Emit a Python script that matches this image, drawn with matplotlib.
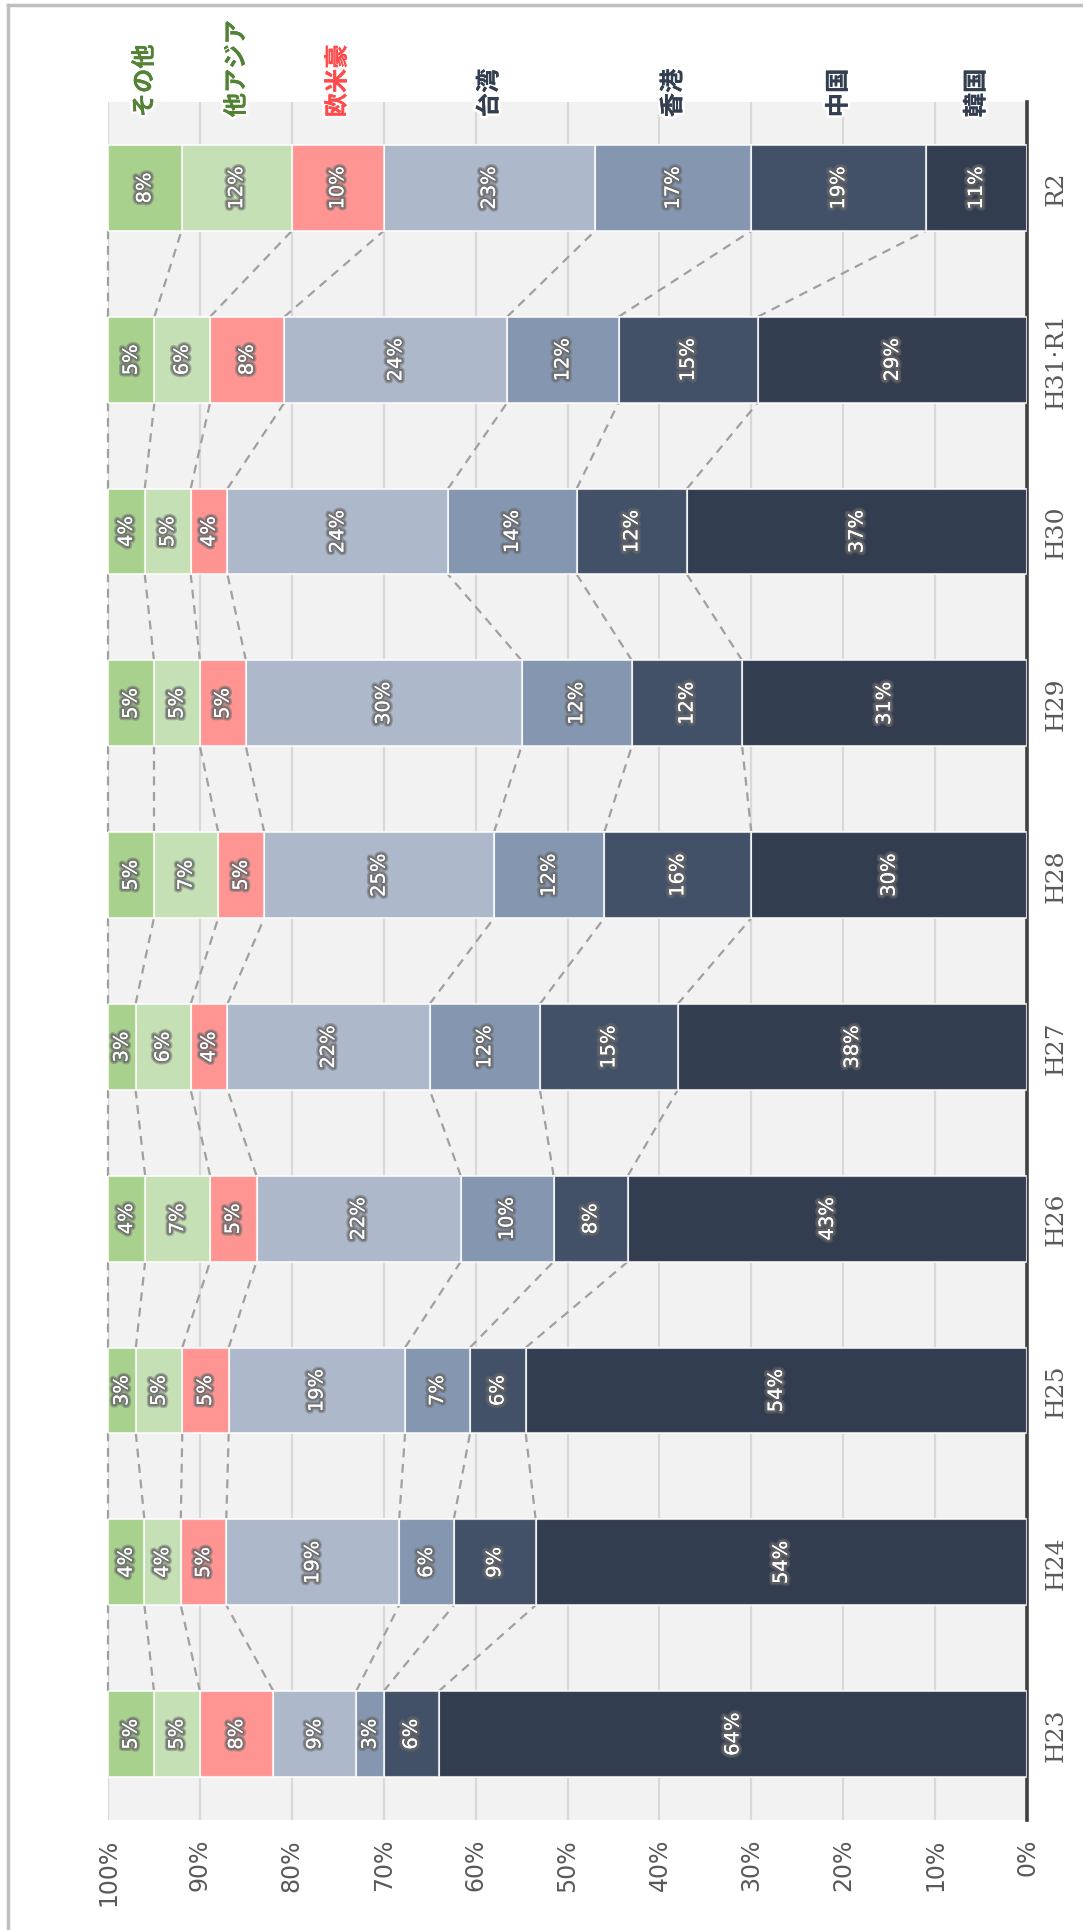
import matplotlib
matplotlib.use('Agg')
import matplotlib.pyplot as plt
import matplotlib.patheffects as pe
from matplotlib.lines import Line2D
import numpy as np

categories = ['H23', 'H24', 'H25', 'H26', 'H27', 'H28', 'H29', 'H30', 'H31·R1', 'R2']
series_names = ['韓国', '中国', '香港', '台湾', '欧米豪', '他アジア', 'その他']
korea = [64, 54, 54, 43, 38, 30, 31, 37, 29, 11]
china = [6, 9, 6, 8, 15, 16, 12, 12, 15, 19]
hongkong = [3, 6, 7, 10, 12, 12, 12, 14, 12, 17]
taiwan = [9, 19, 19, 22, 22, 25, 30, 24, 24, 23]
western = [8, 5, 5, 5, 4, 5, 5, 4, 8, 10]
other_asia = [5, 4, 5, 7, 6, 7, 5, 5, 6, 12]
others = [5, 4, 3, 4, 3, 5, 5, 4, 5, 8]
value_ticks = [0, 10, 20, 30, 40, 50, 60, 70, 80, 90, 100]

series = [korea, china, hongkong, taiwan, western, other_asia, others]
colors = ['#333d50', '#435168', '#8496b0', '#adb9ca', '#ff9593', '#c5e0b4', '#a9d18e']
name_colors = ['#333f50', '#333f50', '#333f50', '#333f50', '#ff4b4b', '#548235', '#548235']

W, H = 1083, 1931
fig = plt.figure(figsize=(W / 100, H / 100), dpi=100)
fig.patch.set_facecolor('white')
ax = fig.add_axes([108 / W, 1 - 1821 / H, (1027 - 108) / W, (1821 - 103) / H])
ax.set_facecolor('#f2f2f2')

data = np.array(series, dtype=float)
totals = data.sum(axis=0)
shares = data / totals * 100
cum = np.cumsum(shares, axis=0)
y = np.arange(len(categories))
bar_h = 0.5

for k in range(len(series)):
    left = cum[k] - shares[k]
    ax.barh(y, shares[k], left=left, height=bar_h, color=colors[k],
            edgecolor=(1, 1, 1, 0.75), linewidth=1.5, zorder=3)
    for j in range(len(categories)):
        ax.text(left[j] + shares[k][j] / 2, y[j], f'{series[k][j]}%',
                rotation=90, ha='center', va='center', color='white',
                fontsize=14, family='DejaVu Sans', zorder=5,
                path_effects=[pe.withStroke(linewidth=5, foreground=(0.42, 0.42, 0.42, 0.45)),
                              pe.withStroke(linewidth=3, foreground=(0.4, 0.4, 0.4, 0.7)),
                              pe.Normal()])

# dashed connectors between bars
for k in range(len(series)):
    for j in range(len(categories) - 1):
        ax.plot([cum[k][j], cum[k][j + 1]], [y[j] + bar_h / 2, y[j + 1] - bar_h / 2],
                color='#a0a0a0', lw=1.6, ls=(0, (4, 3)), zorder=2, clip_on=False)

# series names above last bar
last = len(categories) - 1
for k in range(len(series)):
    cx = cum[k][last] - shares[k][last] / 2
    ax.annotate(series_names[k], xy=(cx, 1.0), xycoords=('data', 'axes fraction'),
                xytext=(0, -11), textcoords='offset points', rotation=90,
                ha='center', va='bottom', color=name_colors[k], fontsize=17.5,
                fontweight='bold', family=['Noto Sans CJK JP', 'DejaVu Sans'], zorder=6,
                path_effects=[pe.withStroke(linewidth=4, foreground='white'), pe.Normal()],
                annotation_clip=False)

ax.set_xlim(100, 0)
ax.set_ylim(-0.5, len(categories) - 0.5)
ax.set_xticks(value_ticks)
ax.set_xticklabels([f'{v}%' for v in value_ticks], rotation=90, fontsize=17,
                   color='#595959', family='DejaVu Sans')
ax.set_yticks(y)
ax.set_yticklabels(categories, rotation=90, va='center', fontsize=18,
                   color='#595959', family=['DejaVu Serif', 'Noto Sans CJK JP'])
ax.yaxis.tick_right()
ax.tick_params(axis='x', length=0, pad=13)
ax.tick_params(axis='y', length=0, pad=13)
ax.grid(axis='x', color='#d9d9d9', lw=1.6, zorder=0)
ax.set_axisbelow(True)
for s in ['top', 'left', 'bottom']:
    ax.spines[s].set_visible(False)
ax.spines['right'].set_color('#404040')
ax.spines['right'].set_linewidth(2.6)

# outer frame (top and left)
fig.add_artist(Line2D([8 / W, 8 / W], [0, 1 - 6 / H], color='#bfbfbf', lw=2.5,
                      transform=fig.transFigure))
fig.add_artist(Line2D([8 / W, 1], [1 - 6 / H, 1 - 6 / H], color='#bfbfbf', lw=2.5,
                      transform=fig.transFigure))

fig.savefig('out.png', dpi=100, facecolor='white')
